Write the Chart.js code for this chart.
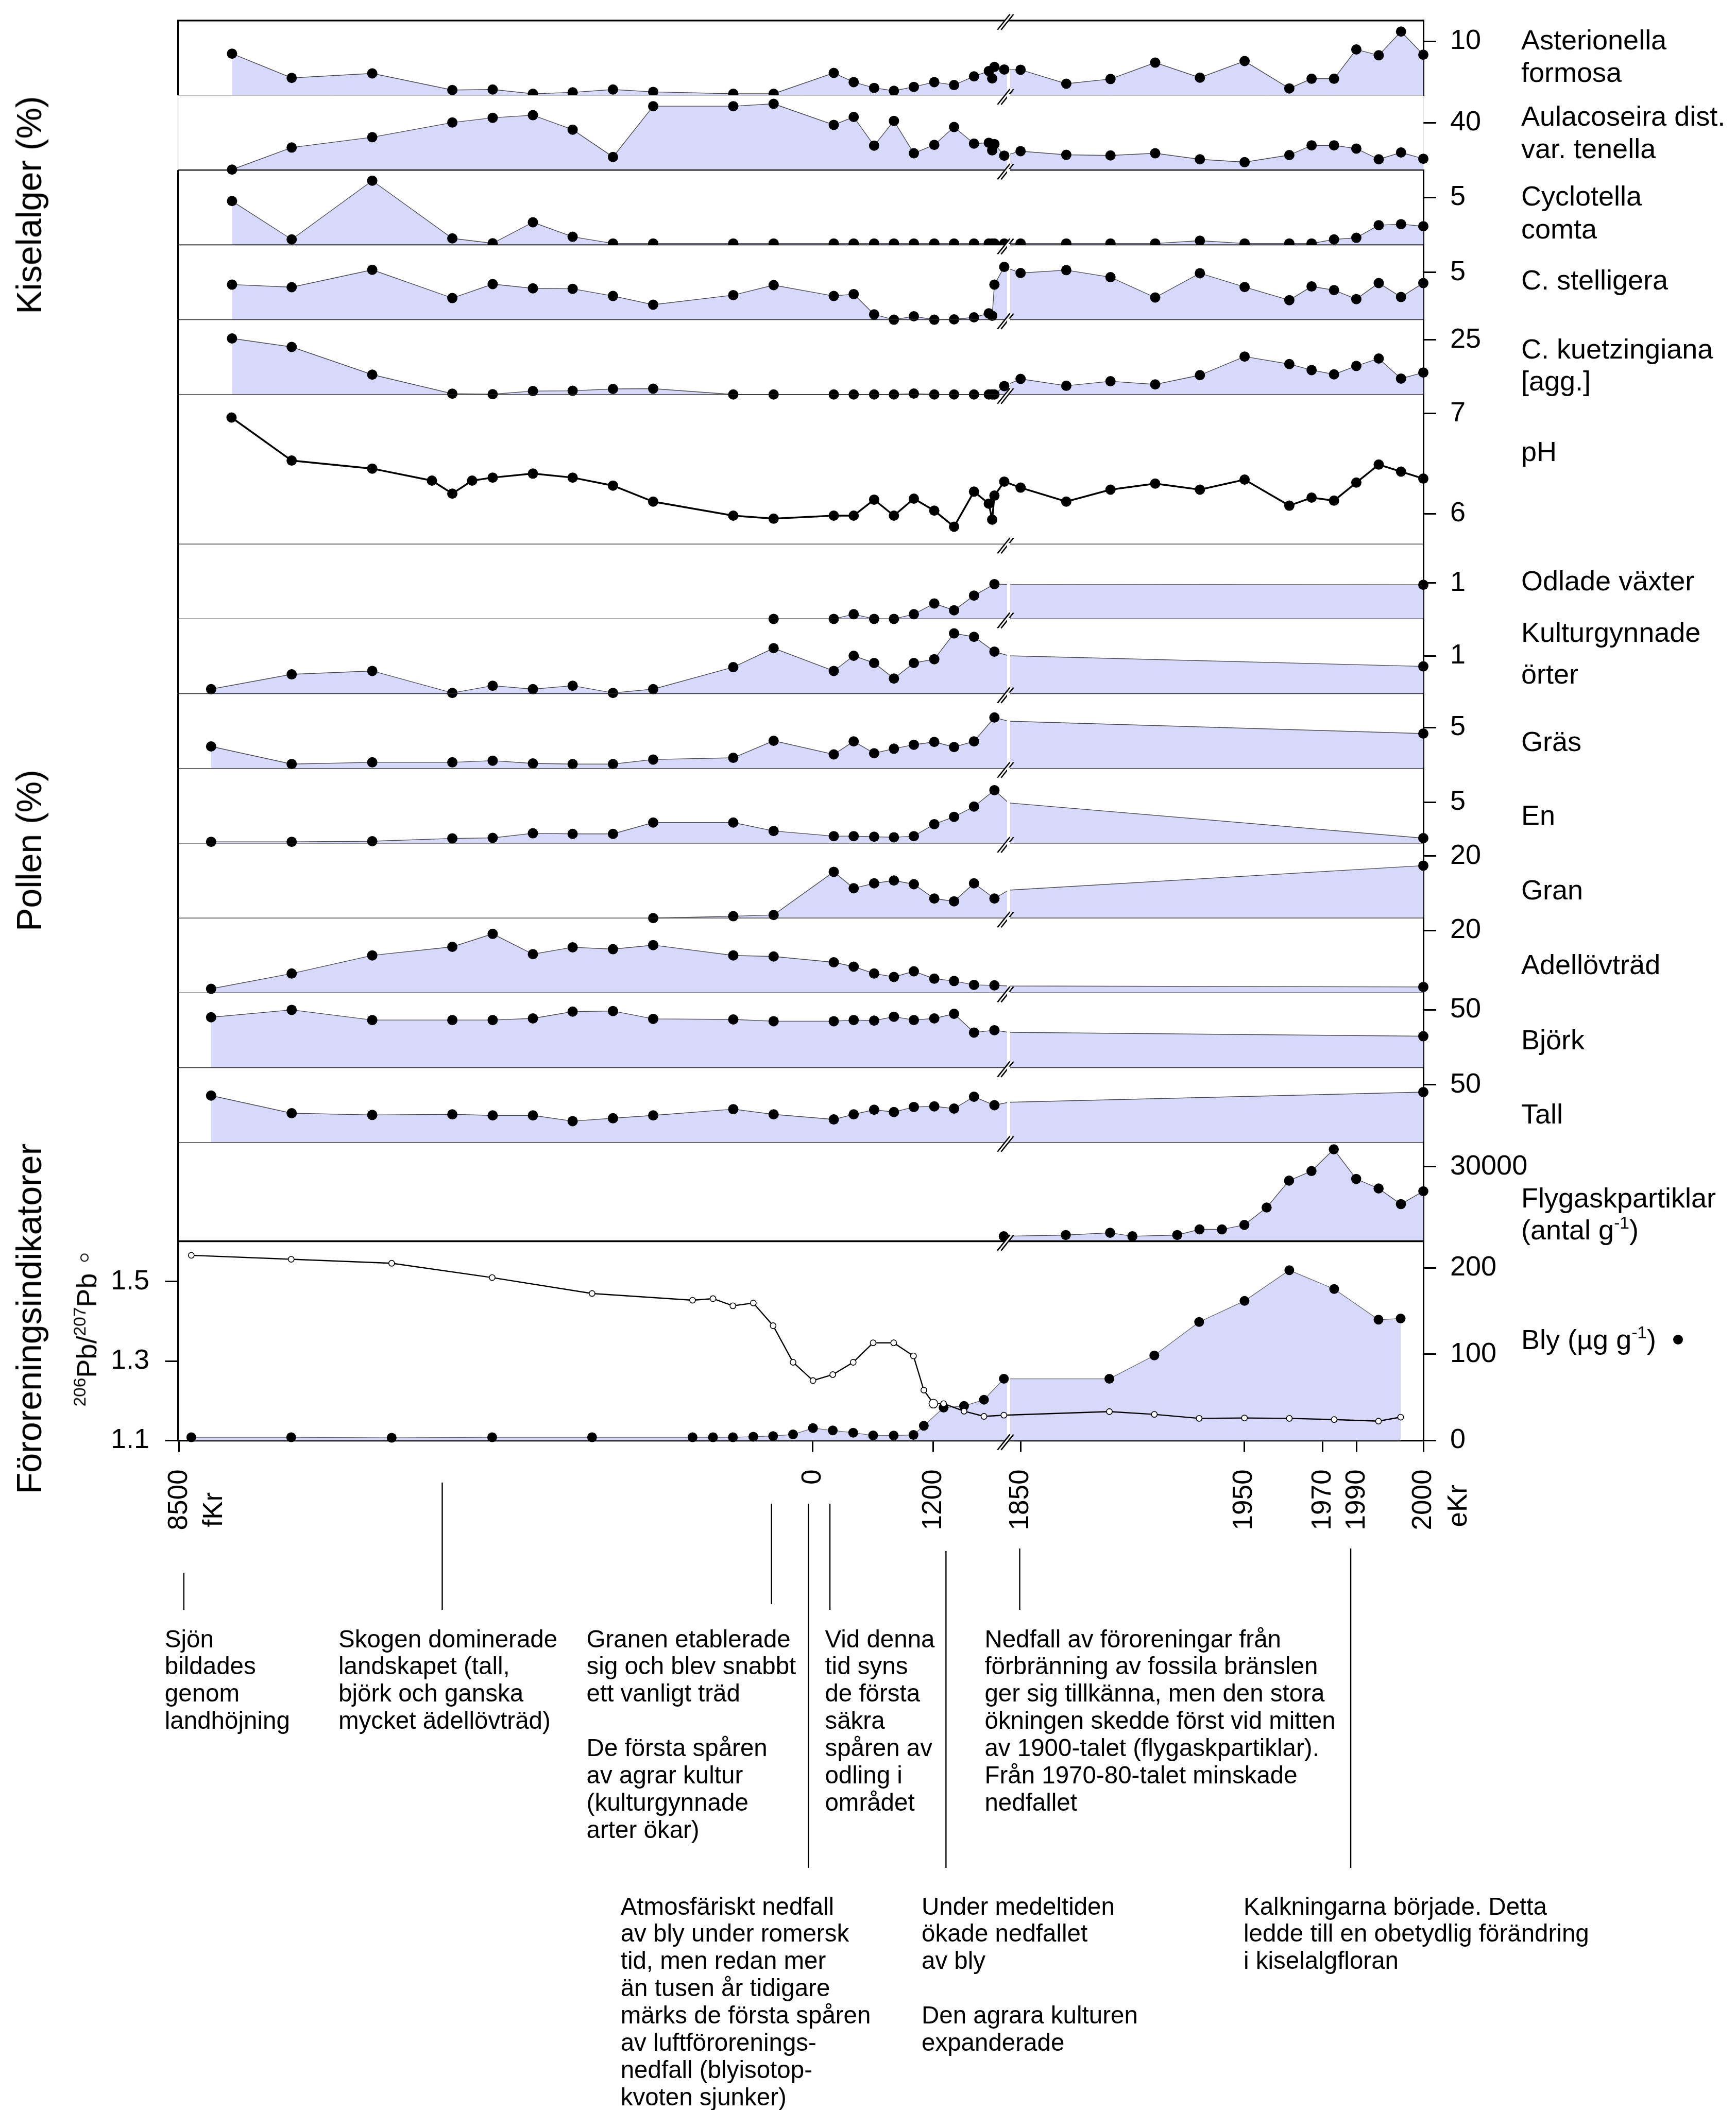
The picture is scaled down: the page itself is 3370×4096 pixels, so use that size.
<!DOCTYPE html>
<html lang="sv">
<head>
<meta charset="utf-8">
<title>Sjöns utveckling</title>
<script src="https://cdn.jsdelivr.net/npm/chart.js@4/dist/chart.umd.min.js"></script>
<style>
  html, body { margin: 0; padding: 0; background: #fff; }
  body { width: 3370px; height: 4096px; position: relative; overflow: hidden;
         font-family: "Liberation Sans", Arial, Helvetica, sans-serif; color: #000; }
  canvas { position: absolute; left: 0; }
  .lbl { position: absolute; font-size: 54px; line-height: 62px; white-space: nowrap; }
  .note { position: absolute; font-size: 47.5px; line-height: 52.9px; white-space: pre; }
  .vt { position: absolute; white-space: nowrap; transform: translate(-50%, -50%) rotate(-90deg); }
  sup { font-size: 62%; line-height: 0; vertical-align: 0.62em; }
</style>
</head>
<body>
<script>
// Positions along the core axis: 0 = oldest sediment (8500 fKr), 100 = core top (2000 eKr).
const diatomPos = [4.34, 9.13, 15.60, 22.03, 25.27, 28.50, 31.69, 34.93, 38.16, 44.59, 47.83, 52.66,
  54.26, 55.90, 57.49, 59.09, 60.73, 62.32, 63.92, 65.11, 65.38, 65.56, 66.35, 67.66, 71.33, 74.88,
  78.47, 82.06, 85.65, 89.24, 91.03, 92.83, 94.62, 96.42, 98.21, 100];

// Diatoms (%)
const asterionella = [7.71, 3.22, 4.05, 0.98, 1.07, 0.29, 0.54, 1.07, 0.63, 0.29, 0.29, 4.15, 2.44,
  1.37, 0.83, 1.56, 2.44, 1.90, 3.51, 4.49, 3.12, 5.27, 4.78, 4.73, 2.15, 3.02, 6.05, 3.27, 6.34,
  1.27, 3.07, 3.07, 8.49, 7.41, 11.8, 7.51];
const aulacoseira = [0.4, 19.1, 27.8, 40.2, 44.2, 46.4, 34.2, 11.1, 54.0, 54.0, 56.0, 38.2, 44.9,
  20.7, 41.6, 14.2, 21.3, 36.4, 22.4, 23.1, 16.7, 22.0, 12.2, 16.0, 12.9, 12.4, 14.2, 9.1, 6.7,
  12.7, 20.9, 20.9, 18.2, 9.1, 14.9, 9.6];
const cyclotellaComta = [4.63, 0.58, 6.78, 0.69, 0.17, 2.39, 0.86, 0.15, 0.15, 0.15, 0.15, 0.15,
  0.15, 0.15, 0.15, 0.15, 0.15, 0.15, 0.15, 0.15, 0.15, 0.15, 0.15, 0.15, 0.15, 0.15, 0.15, 0.44,
  0.15, 0.15, 0.15, 0.58, 0.75, 2.08, 2.19, 1.97];
const cStelligera = [3.72, 3.44, 5.28, 2.29, 3.77, 3.32, 3.27, 2.51, 1.59, 2.60, 3.66, 2.51, 2.71,
  0.56, 0, 0.36, 0, 0.03, 0.25, 0.67, 0.42, 3.72, 5.59, 4.94, 5.25, 4.50, 2.35, 4.92, 3.46, 2.07,
  3.52, 3.13, 2.18, 3.88, 2.40, 3.88];
const cKuetzingiana = [25.7, 21.8, 9.1, 0.36, 0.12, 1.58, 1.70, 2.55, 2.67, 0, 0, 0, 0, 0, 0, 0.4,
  0, 0, 0, 0, 0, 0, 3.88, 7.16, 4.0, 6.07, 4.61, 8.86, 17.4, 13.96, 11.2, 9.22, 13.1, 16.5, 7.3, 10.07];

// Diatom-inferred pH
const phPos = [4.30, 9.13, 15.60, 20.39, 22.03, 23.62, 25.27, 28.50, 31.69, 34.93, 38.16, 44.59,
  47.83, 52.66, 54.26, 55.90, 57.49, 59.09, 60.73, 62.32, 63.92, 65.11, 65.38, 65.56, 66.35, 67.66,
  71.33, 74.88, 78.47, 82.06, 85.65, 89.24, 91.03, 92.83, 94.62, 96.42, 98.21, 100];
const phValues = [6.96, 6.53, 6.45, 6.33, 6.20, 6.33, 6.36, 6.40, 6.36, 6.28, 6.12, 5.98, 5.95,
  5.98, 5.98, 6.14, 5.98, 6.15, 6.03, 5.87, 6.22, 6.10, 5.94, 6.18, 6.32, 6.26, 6.12, 6.24, 6.30,
  6.24, 6.34, 6.08, 6.16, 6.13, 6.31, 6.49, 6.42, 6.35];

// Pollen (%): 20 samples below the break plus the surface sample
const pollenPos = [2.66, 9.13, 15.60, 22.03, 25.27, 28.50, 31.69, 34.93, 38.16, 44.59, 47.83, 52.66,
  54.26, 55.90, 57.49, 59.09, 60.73, 62.32, 63.92, 65.56, 100];
const odladeVaxter = [null, null, null, null, null, null, null, null, null, null, 0, 0, 0.13, 0, 0,
  0.13, 0.43, 0.24, 0.65, 0.97, 0.95];
const kulturgynnade = [0.12, 0.51, 0.60, 0.02, 0.21, 0.12, 0.21, 0.02, 0.12, 0.70, 1.20, 0.60, 1.00,
  0.81, 0.40, 0.81, 0.91, 1.59, 1.50, 1.11, 0.72];
const gras = [2.68, 0.54, 0.75, 0.75, 0.95, 0.61, 0.54, 0.54, 1.09, 1.30, 3.37, 1.71, 3.30, 1.85,
  2.41, 2.89, 3.23, 2.61, 3.30, 6.20, 4.25];
const en = [0.18, 0.18, 0.25, 0.59, 0.66, 1.22, 1.15, 1.15, 2.53, 2.53, 1.50, 0.87, 0.87, 0.80,
  0.73, 0.87, 2.33, 3.23, 4.48, 6.48, 0.63];
const gran = [null, null, null, null, null, null, null, null, 0, 0.6, 1.0, 14.9, 9.6, 11.2, 12.1,
  10.9, 6.3, 5.4, 11.2, 6.3, 16.9];
const adellovtrad = [1.3, 6.2, 12.0, 14.75, 18.9, 12.4, 14.6, 14.0, 15.3, 12.0, 11.65, 9.8, 8.4,
  6.2, 5.1, 6.9, 4.55, 3.8, 2.56, 2.4, 1.9];
const bjork = [43.6, 50.0, 41.2, 41.2, 41.2, 42.6, 48.5, 49.0, 42.2, 41.7, 40.2, 40.2, 41.2, 40.7,
  44.1, 41.2, 42.6, 46.6, 30.4, 32.4, 27.2];
const tall = [40.7, 25.4, 23.9, 24.4, 23.5, 23.5, 18.5, 21.0, 23.5, 28.9, 24.4, 20.0, 24.4, 28.4,
  26.4, 30.8, 31.3, 29.4, 39.7, 32.3, 43.7];
// Curve level where each pollen curve meets the axis break (Odlade, Kultur, Gräs, En, Gran, Ädel, Björk, Tall)
const pollenAtBreak = [0.96, 1.00, 5.75, 4.93, 9.0, 2.2, 30.6, 34.9];

// Fly-ash particles (antal per g)
const flygPos = [66.31, 71.29, 74.85, 76.64, 80.24, 82.03, 83.83, 85.63, 87.42, 89.22, 91.02, 92.81,
  94.61, 96.41, 98.20, 100];
const flygValues = [2000, 2500, 3400, 2000, 2500, 4750, 4750, 6550, 13550, 24350, 28200, 36950,
  25050, 21200, 14900, 20100];

// Lead concentration (µg/g) and 206Pb/207Pb ratio
const blyPos = [1.07, 9.09, 17.16, 25.23, 33.25, 41.32, 42.96, 44.56, 46.20, 47.79, 49.39, 50.99,
  52.58, 54.22, 55.82, 57.47, 59.06, 59.89, 61.48, 63.12, 64.72, 66.32, 74.79, 78.40, 82.00, 85.64,
  89.24, 92.84, 96.40, 98.18];
const blyValues = [3.9, 3.9, 3.3, 3.9, 3.9, 3.9, 3.9, 3.9, 4.6, 5.3, 7.2, 14.5, 11.8, 9.2, 6.0, 5.9,
  6.6, 17.2, 38.2, 40.1, 47.4, 71.6, 71.6, 98.6, 137.4, 161.8, 197.3, 175.6, 140.1, 141.4];
const ratioPos = [1.07, 9.09, 17.16, 25.23, 33.25, 41.32, 42.96, 44.56, 46.20, 47.79, 49.39, 50.99,
  52.58, 54.22, 55.82, 57.47, 59.06, 59.89, 60.66, 61.48, 63.12, 64.72, 66.32, 74.79, 78.40, 82.00,
  85.64, 89.24, 92.84, 96.40, 98.18];
const ratioValues = [1.566, 1.556, 1.546, 1.510, 1.470, 1.453, 1.457, 1.439, 1.446, 1.389, 1.297,
  1.251, 1.266, 1.297, 1.346, 1.346, 1.313, 1.227, 1.193, 1.193, 1.174, 1.161, 1.164, 1.173, 1.166,
  1.156, 1.157, 1.156, 1.153, 1.149, 1.159];

// Age labels on the core axis
const xTickPos = [0.1, 50.98, 60.66, 67.68, 85.64, 91.93, 94.66, 100];
const xTickLabels = [['8500', 'fKr   '], '0', '1200', '1850', '1950', '1970', '1990', ['2000', 'eKr  ']];

// ---------------------------------------------------------------------------
// Page geometry and styles
const FONT = '"Liberation Sans", Arial, Helvetica, sans-serif';
const PAGE_W = 3370, PAGE_H = 4096;
const PLOT_L = 345.5, PLOT_R = 2763;
const RAX_W = 300, LAX_W = 220, XAX_H = 200, PAD = 40;
const FILL = 'rgb(216,216,250)';
const LINE = '#4a4a4a';
const GAP_POS = 66.7;     // white cut through the filled curves at the axis break
const BREAK_POS = 66.45;  // the "//" break symbol

Chart.defaults.font.family = FONT;
Chart.defaults.color = '#000';

function makeCanvas(top, h) {
  const c = document.createElement('canvas');
  c.width = PAGE_W; c.height = h;
  c.style.top = top + 'px';
  c.style.width = PAGE_W + 'px';
  c.style.height = h + 'px';
  document.body.appendChild(c);
  return c;
}

function drawBreak(ctx, cx, y) {
  ctx.save();
  ctx.beginPath();
  ctx.moveTo(cx - 15.5, y + 15); ctx.lineTo(cx + 8.5, y - 15);
  ctx.lineTo(cx + 15.5, y - 15); ctx.lineTo(cx - 8.5, y + 15);
  ctx.closePath();
  ctx.fillStyle = '#fff';
  ctx.fill();
  ctx.strokeStyle = '#000';
  ctx.lineWidth = 2.6;
  ctx.beginPath();
  ctx.moveTo(cx - 15.5, y + 15); ctx.lineTo(cx + 8.5, y - 15);
  ctx.moveTo(cx - 8.5, y + 15); ctx.lineTo(cx + 15.5, y - 15);
  ctx.stroke();
  ctx.restore();
}

// Frame lines, the white cut at the break and the break symbols
const panelDeco = {
  id: 'panelDeco',
  afterDatasetDraw(chart, args, opts) {
    const ds = chart.data.datasets[args.index];
    if (!ds.isArea || !opts.gap) return;
    const a = chart.chartArea;
    const x = chart.scales.x.getPixelForValue(GAP_POS);
    const ctx = chart.ctx;
    ctx.save();
    ctx.fillStyle = '#fff';
    ctx.fillRect(x - 3, a.top - 2, 6, a.bottom - a.top + 2);
    ctx.restore();
  },
  afterDatasetsDraw(chart, args, opts) {
    const ctx = chart.ctx, a = chart.chartArea;
    const seg = (x1, y1, x2, y2, st) => {
      ctx.save();
      ctx.strokeStyle = st.c; ctx.lineWidth = st.w;
      ctx.beginPath(); ctx.moveTo(x1, y1); ctx.lineTo(x2, y2); ctx.stroke();
      ctx.restore();
    };
    if (opts.left) seg(a.left, a.top, a.left, a.bottom, opts.left);
    if (opts.bottomLine) seg(a.left, a.bottom, a.right, a.bottom, opts.bottomLine);
    if (opts.topLine) seg(a.left - 1.5, a.top, a.right + 1.5, a.top, opts.topLine);
    const bx = chart.scales.x.getPixelForValue(BREAK_POS);
    if (opts.breakTop) drawBreak(ctx, bx, a.top + 3);
    if (opts.breakBottom) drawBreak(ctx, bx, a.bottom + 3);
  }
};

function rightAxis(range, ticks, border) {
  return {
    position: 'right', min: range[0], max: range[1],
    afterBuildTicks: s => { s.ticks = ticks.map(v => ({ value: v })); },
    afterFit: s => { s.width = RAX_W; s.paddingTop = 0; s.paddingBottom = 0; },
    ticks: { font: { size: 54 }, color: '#000', padding: 27, callback: v => String(v) },
    grid: { drawOnChartArea: false, drawTicks: true, tickLength: 25, tickWidth: 3, tickColor: '#000' },
    border: { display: true, color: border.c, width: border.w }
  };
}

function toPoints(pos, vals) {
  const pts = [];
  vals.forEach((v, i) => { if (v !== null && v !== undefined) pts.push({ x: pos[i], y: v }); });
  return pts;
}

function areaSet(points, extra) {
  return Object.assign({
    data: points, isArea: true, borderColor: LINE, borderWidth: 1.4, backgroundColor: FILL,
    fill: 'origin', pointRadius: 0, tension: 0, order: 3, clip: false
  }, extra || {});
}
function dotSet(points, clipDots, extra) {
  return Object.assign({
    data: points, showLine: false, pointRadius: 10, pointBackgroundColor: '#000',
    pointBorderWidth: 0, order: 2,
    clip: clipDots ? { left: false, top: false, right: false, bottom: 0 } : false
  }, extra || {});
}

// Pollen curve: samples up to the break, the break level, then the surface sample
function pollenLine(vals, atBreak) {
  const pts = [];
  for (let i = 0; i < pollenPos.length - 1; i++) {
    if (vals[i] !== null) pts.push({ x: pollenPos[i], y: vals[i] });
  }
  pts.push({ x: GAP_POS, y: atBreak });
  pts.push({ x: 100, y: vals[vals.length - 1] });
  return pts;
}

const thinDark = { w: 1.2, c: '#222' };
const black3 = { w: 3, c: '#000' };

const panelDefs = [
  { top: 39.8, bottom: 185.0, range: [0, 13.85], ticks: [10], kind: 'diatom', vals: asterionella,
    topLine: { w: 3.2, c: '#000' }, bottomLine: { w: 1, c: '#888' }, clipDots: true, breakTop: true },
  { top: 185.0, bottom: 330.2, range: [0, 63.2], ticks: [40], kind: 'diatom', vals: aulacoseira,
    bottomLine: { w: 2.2, c: '#000' }, side: { w: 1.2, c: '#aaa' } },
  { top: 330.2, bottom: 475.4, range: [0, 7.9], ticks: [5], kind: 'diatom', vals: cyclotellaComta,
    bottomLine: { w: 1.6, c: '#000' }, clipDots: true },
  { top: 475.4, bottom: 620.6, range: [0, 7.92], ticks: [5], kind: 'diatom', vals: cStelligera },
  { top: 620.6, bottom: 765.8, range: [0, 34.3], ticks: [25], kind: 'diatom', vals: cKuetzingiana },
  { top: 765.8, bottom: 1056.2, range: [5.696, 7.19], ticks: [6, 7], kind: 'ph' },
  { top: 1056.2, bottom: 1201.4, range: [0, 2.086], ticks: [1], kind: 'pollen', vals: odladeVaxter, idx: 0 },
  { top: 1201.4, bottom: 1346.6, range: [0, 1.973], ticks: [1], kind: 'pollen', vals: kulturgynnade, idx: 1 },
  { top: 1346.6, bottom: 1491.8, range: [0, 9.10], ticks: [5], kind: 'pollen', vals: gras, idx: 2 },
  { top: 1491.8, bottom: 1637.0, range: [0, 9.13], ticks: [5], kind: 'pollen', vals: en, idx: 3 },
  { top: 1637.0, bottom: 1782.2, range: [0, 24.1], ticks: [20], kind: 'pollen', vals: gran, idx: 4 },
  { top: 1782.2, bottom: 1927.4, range: [0, 23.96], ticks: [20], kind: 'pollen', vals: adellovtrad, idx: 5 },
  { top: 1927.4, bottom: 2072.6, range: [0, 64.7], ticks: [50], kind: 'pollen', vals: bjork, idx: 6 },
  { top: 2072.6, bottom: 2217.8, range: [0, 64.9], ticks: [50], kind: 'pollen', vals: tall, idx: 7 },
  { top: 2217.8, bottom: 2409.5, range: [0, 39700], ticks: [30000], kind: 'flyg',
    bottomLine: { w: 3.2, c: '#000' } }
];

panelDefs.forEach(def => {
  const cTop = Math.floor(def.top - PAD);
  const h = Math.ceil(def.bottom + PAD) - cTop;
  const canvas = makeCanvas(cTop, h);
  let datasets = [];
  let gap = true;
  if (def.kind === 'diatom') {
    const pts = toPoints(diatomPos, def.vals);
    datasets = [areaSet(pts), dotSet(pts, def.clipDots)];
  } else if (def.kind === 'pollen') {
    const line = pollenLine(def.vals, pollenAtBreak[def.idx]);
    datasets = [areaSet(line), dotSet(toPoints(pollenPos, def.vals), false)];
  } else if (def.kind === 'ph') {
    gap = false;
    datasets = [{
      data: toPoints(phPos, phValues), borderColor: '#000', borderWidth: 3.5, fill: false,
      pointRadius: 10, pointBackgroundColor: '#000', pointBorderWidth: 0, tension: 0, clip: false
    }];
  } else if (def.kind === 'flyg') {
    gap = false;
    const pts = toPoints(flygPos, flygValues);
    datasets = [areaSet(pts), dotSet(pts, false, { pointRadius: 9.8 })];
  }
  const side = def.side || black3;
  new Chart(canvas, {
    type: 'line',
    data: { datasets },
    options: {
      responsive: false, animation: false, devicePixelRatio: 1, events: [],
      layout: { padding: { left: PLOT_L, right: PAGE_W - PLOT_R - RAX_W,
                           top: def.top - cTop, bottom: h - (def.bottom - cTop) } },
      plugins: {
        legend: { display: false }, tooltip: { enabled: false },
        panelDeco: { gap, left: side, bottomLine: def.bottomLine || thinDark, topLine: def.topLine,
                     breakTop: !!def.breakTop, breakBottom: true }
      },
      scales: {
        x: { type: 'linear', min: 0, max: 100, display: false },
        y: rightAxis(def.range, def.ticks, side)
      }
    },
    plugins: [panelDeco]
  });
});

// Bottom panel: lead concentration (right axis) and lead isotope ratio (left axis)
const pointerLines = [
  { pos: 0.47, y1: 3053, y2: 3125 }, { pos: 21.22, y1: 2878, y2: 3125 },
  { pos: 47.66, y1: 2919, y2: 3114 }, { pos: 50.62, y1: 2919, y2: 3626 },
  { pos: 52.35, y1: 2919, y2: 3125 }, { pos: 61.67, y1: 3011, y2: 3626 },
  { pos: 67.59, y1: 3006, y2: 3125 }, { pos: 94.17, y1: 3006, y2: 3626 }
];
(function () {
  const top = 2409.5, bottom = 2796.6;
  const cTop = Math.floor(top - PAD);
  const h = PAGE_H - cTop;
  const canvas = makeCanvas(cTop, h);
  const blyPts = toPoints(blyPos, blyValues);
  const pointers = {
    id: 'pointers',
    afterDraw(chart) {
      const ctx = chart.ctx;
      ctx.save();
      ctx.strokeStyle = '#000'; ctx.lineWidth = 2.4;
      pointerLines.forEach(p => {
        const x = chart.scales.x.getPixelForValue(p.pos);
        ctx.beginPath(); ctx.moveTo(x, p.y1 - cTop); ctx.lineTo(x, p.y2 - cTop); ctx.stroke();
      });
      ctx.restore();
    }
  };
  new Chart(canvas, {
    type: 'line',
    data: {
      datasets: [
        { data: toPoints(ratioPos, ratioValues), yAxisID: 'yL', borderColor: '#000', borderWidth: 2.4,
          fill: false, tension: 0, order: 1, clip: false, pointBackgroundColor: '#fff',
          pointBorderColor: '#000', pointBorderWidth: 1.6,
          pointRadius: ctx => (ctx.raw && ctx.raw.x === 60.66 ? 8.5 : 5.6) },
        dotSet(blyPts, false, { yAxisID: 'yR', pointRadius: 9.5 }),
        areaSet(blyPts, { yAxisID: 'yR', borderColor: '#666', borderWidth: 1.3 })
      ]
    },
    options: {
      responsive: false, animation: false, devicePixelRatio: 1, events: [],
      layout: { padding: { left: PLOT_L - LAX_W, right: PAGE_W - PLOT_R - RAX_W,
                           top: top - cTop, bottom: h - (bottom - cTop) - XAX_H } },
      plugins: {
        legend: { display: false }, tooltip: { enabled: false },
        panelDeco: { gap: true, topLine: { w: 3.4, c: '#000' }, breakTop: true, breakBottom: true }
      },
      scales: {
        x: {
          type: 'linear', min: 0, max: 100, position: 'bottom',
          afterBuildTicks: s => { s.ticks = xTickPos.map(v => ({ value: v })); },
          afterFit: s => { s.height = XAX_H; s.paddingLeft = 0; s.paddingRight = 0; },
          ticks: { autoSkip: false, minRotation: 90, maxRotation: 90, padding: 34, color: '#000',
                   font: { size: 53, lineHeight: 1.3 }, callback: (v, i) => xTickLabels[i] },
          grid: { drawOnChartArea: false, drawTicks: true, tickLength: 22, tickWidth: 3, tickColor: '#000' },
          border: { display: true, color: '#000', width: 3.2 }
        },
        yL: {
          position: 'left', min: 1.1, max: 1.6014,
          afterBuildTicks: s => { s.ticks = [1.1, 1.3, 1.5].map(v => ({ value: v })); },
          afterFit: s => { s.width = LAX_W; s.paddingTop = 0; s.paddingBottom = 0; },
          ticks: { font: { size: 54 }, color: '#000', padding: 30.5, callback: v => v.toFixed(1) },
          grid: { drawOnChartArea: false, drawTicks: true, tickLength: 25, tickWidth: 3, tickColor: '#000' },
          border: { display: true, color: '#000', width: 3.2 }
        },
        yR: rightAxis([0, 230.9], [0, 100, 200], black3)
      }
    },
    plugins: [panelDeco, pointers]
  });
})();

// ---------------------------------------------------------------------------
// Text
function addDiv(cls, left, top, html, style) {
  const d = document.createElement('div');
  d.className = cls;
  d.style.left = left + 'px';
  d.style.top = top + 'px';
  if (style) Object.assign(d.style, style);
  d.innerHTML = html;
  document.body.appendChild(d);
  return d;
}

const seriesLabels = [
  ['Asterionella', 77], ['formosa', 140],
  ['Aulacoseira dist.', 225], ['var. tenella', 288],
  ['Cyclotella', 380], ['comta', 444],
  ['C. stelligera', 543],
  ['C. kuetzingiana', 677], ['[agg.]', 739],
  ['pH', 876],
  ['Odlade växter', 1127],
  ['Kulturgynnade', 1227], ['örter', 1308],
  ['Gräs', 1439],
  ['En', 1582],
  ['Gran', 1727],
  ['Adellövträd', 1872],
  ['Björk', 2018],
  ['Tall', 2162],
  ['Flygaskpartiklar', 2325], ['(antal g<sup>-1</sup>)', 2387],
  ['Bly (µg g<sup>-1</sup>)', 2600]
];
seriesLabels.forEach(([t, y]) => addDiv('lbl', 2953, y - 31, t));
addDiv('lbl', 3247.5, 2590.5, '', { width: '19px', height: '19px', borderRadius: '50%', background: '#000' });

const groupLabels = [['Kiselalger (%)', 398], ['Pollen (%)', 1651], ['Föroreningsindikatorer', 2560]];
groupLabels.forEach(([t, y]) => addDiv('vt', 55.5, y, t, { fontSize: '68px', lineHeight: '68px' }));
addDiv('vt', 168, 2582,
  '<sup>206</sup>Pb/<sup>207</sup>Pb<span style="display:inline-block;width:12px;height:12px;' +
  'border:2px solid #000;border-radius:50%;margin-left:22px;vertical-align:0.28em"></span>',
  { fontSize: '54px', lineHeight: '54px' });

const notes = [
  [319.8, 3182, 'Sjön\nbildades\ngenom\nlandhöjning'],
  [657, 3182, 'Skogen dominerade\nlandskapet (tall,\nbjörk och ganska\nmycket ädellövträd)'],
  [1138.6, 3182, 'Granen etablerade\nsig och blev snabbt\nett vanligt träd\n\nDe första spåren\nav agrar kultur\n(kulturgynnade\narter ökar)'],
  [1601.4, 3182, 'Vid denna\ntid syns\nde första\nsäkra\nspåren av\nodling i\nområdet'],
  [1911.4, 3182, 'Nedfall av föroreningar från\nförbränning av fossila bränslen\nger sig tillkänna, men den stora\nökningen skedde först vid mitten\nav 1900-talet (flygaskpartiklar).\nFrån 1970-80-talet minskade\nnedfallet'],
  [1204.7, 3701, 'Atmosfäriskt nedfall\nav bly under romersk\ntid, men redan mer\nän tusen år tidigare\nmärks de första spåren\nav luftförorenings-\nnedfall (blyisotop-\nkvoten sjunker)'],
  [1789, 3701, 'Under medeltiden\nökade nedfallet\nav bly\n\nDen agrara kulturen\nexpanderade'],
  [2414, 3701, 'Kalkningarna började. Detta\nledde till en obetydlig förändring\ni kiselalgfloran']
];
notes.forEach(([x, y, t]) => {
  const d = addDiv('note', x, y - 26.45, '');
  d.textContent = t;
});
</script>
</body>
</html>
